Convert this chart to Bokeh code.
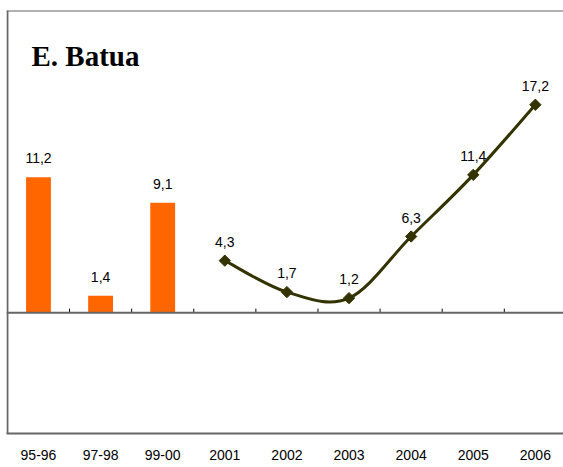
import math
from bokeh.plotting import figure
from bokeh.models import Range1d, Span, Label, FixedTicker, ColumnDataSource
from bokeh.core.properties import value
from bokeh.embed import file_html
from bokeh.resources import INLINE

# ---- data ----
categories = ["95-96", "97-98", "99-00", "2001", "2002", "2003", "2004", "2005", "2006"]
bar_cats = ["95-96", "97-98", "99-00"]
bar_values = [11.2, 1.4, 9.1]
line_cats = ["2001", "2002", "2003", "2004", "2005", "2006"]
line_values = [4.3, 1.7, 1.2, 6.3, 11.4, 17.2]
title_text = "E. Batua"

def fmt(v):
    return f"{v:.1f}".replace(".", ",")

idx = {c: i for i, c in enumerate(categories)}
bx = [idx[c] for c in bar_cats]
lx = [idx[c] for c in line_cats]

ORANGE = "#FF6600"
OLIVE = "#333300"
GREY = "#666666"

p = figure(width=563, height=467, output_backend="svg", toolbar_location=None,
           x_range=Range1d(-0.515, 8.453), y_range=Range1d(-10, 25),
           min_border_left=6, min_border_right=0, min_border_top=10, min_border_bottom=34,
           outline_line_color=None, background_fill_color="white", border_fill_color="white")
p.grid.visible = False
p.yaxis.visible = False

xa = p.xaxis[0]
xa.ticker = FixedTicker(ticks=list(range(len(categories))))
xa.major_label_overrides = {i: c for i, c in enumerate(categories)}
xa.major_tick_line_color = None
xa.minor_tick_line_color = None
xa.axis_line_color = GREY
xa.axis_line_width = 2
xa.major_label_standoff = 10
xa.major_label_text_font = "Liberation Sans"
xa.major_label_text_font_size = "14px"
xa.major_label_text_color = "black"

# frame borders (left, top)
p.add_layout(Span(location=-0.5, dimension="height", line_color=GREY, line_width=2))
p.add_layout(Span(location=25, dimension="width", line_color=GREY, line_width=2))

# bars
bsrc = ColumnDataSource(dict(x=bx, top=bar_values, lab=[fmt(v) for v in bar_values]))
p.vbar(x="x", top="top", bottom=0, width=0.4, source=bsrc, fill_color=ORANGE, line_color=None)

# zero line with category-boundary ticks
p.add_layout(Span(location=0, dimension="width", line_color=GREY, line_width=2))
bounds = [i + 0.5 for i in range(len(categories) - 1)]
p.segment(x0=bounds, y0=[0] * len(bounds), x1=bounds, y1=[0.33] * len(bounds),
          line_color="black", line_width=1)

# smoothed line (Catmull-Rom style Bezier segments)
n = len(lx)
x0s, y0s, x1s, y1s, cx0, cy0, cx1, cy1 = [], [], [], [], [], [], [], []
for i in range(n - 1):
    pxm = lx[i - 1] if i > 0 else lx[i]
    pym = line_values[i - 1] if i > 0 else line_values[i]
    pxp = lx[i + 2] if i + 2 < n else lx[i + 1]
    pyp = line_values[i + 2] if i + 2 < n else line_values[i + 1]
    x0s.append(lx[i]); y0s.append(line_values[i])
    x1s.append(lx[i + 1]); y1s.append(line_values[i + 1])
    cx0.append(lx[i] + (lx[i + 1] - pxm) / 6.0)
    cy0.append(line_values[i] + (line_values[i + 1] - pym) / 6.0)
    cx1.append(lx[i + 1] - (pxp - lx[i]) / 6.0)
    cy1.append(line_values[i + 1] - (pyp - line_values[i]) / 6.0)
p.bezier(x0=x0s, y0=y0s, x1=x1s, y1=y1s, cx0=cx0, cy0=cy0, cx1=cx1, cy1=cy1,
         line_color=OLIVE, line_width=3)
lsrc = ColumnDataSource(dict(x=lx, y=line_values, lab=[fmt(v) for v in line_values]))
p.scatter(x="x", y="y", source=lsrc, marker="square", size=8, angle=math.pi / 4,
          fill_color=OLIVE, line_color=OLIVE)

# data labels
for src, ycol in ((bsrc, "top"), (lsrc, "y")):
    p.text(x="x", y=ycol, text="lab", source=src, text_align="center",
           text_baseline="bottom", y_offset=-14,
           text_font=value("Liberation Sans"), text_font_size="14px", text_color="black")

# title
p.add_layout(Label(x=-0.5 + 24 / 62.0, y=25 - 46 / 12.09, text=title_text,
                   text_font="Liberation Serif", text_font_size="29px",
                   text_font_style="bold", text_color="black",
                   text_baseline="alphabetic"))

open("out.html", "w").write(file_html(p, INLINE))
